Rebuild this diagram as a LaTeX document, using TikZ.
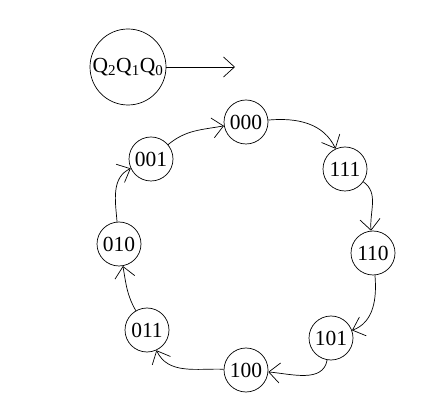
\documentclass[tikz,border=0pt]{standalone}
\usepackage{fontspec}
\setmainfont{Liberation Serif}
\usetikzlibrary{arrows.meta}
\begin{document}
\begin{tikzpicture}[x=1pt,y=-1pt,
  st/.style={circle,draw,line width=0.7pt,minimum size=44pt,inner sep=0pt,font=\fontsize{21.5}{24}\selectfont},
  big/.style={circle,draw,line width=0.7pt,minimum size=76pt,inner sep=0pt,font=\fontsize{21.5}{24}\selectfont},
  edge/.style={line width=0.7pt,-{Straight Barb[length=11pt,width=20pt,line width=0.7pt]}}]
\useasboundingbox (0,0) rectangle (431,411);
\node[big] (q) at (128,67) {Q\textsubscript{2}Q\textsubscript{1}Q\textsubscript{0}};
\coordinate (qe) at (235,67);
\draw[edge] (q) -- (qe);
\node[st] (s000) at (246,122) {000};
\node[st] (s111) at (345,169) {111};
\node[st] (s110) at (373,253) {110};
\node[st] (s101) at (331,338) {101};
\node[st] (s100) at (246,370) {100};
\node[st] (s011) at (147,330) {011};
\node[st] (s010) at (119,244) {010};
\node[st] (s001) at (151,159) {001};
\draw[edge] (s001) to[out=40,in=190] (s000);
\draw[edge] (s000) to[out=5,in=115] (s111);
\draw[edge] (s111) to[out=-35,in=95] (s110);
\draw[edge] (s110) to[out=-85,in=20] (s101);
\draw[edge] (s101) to[out=-100,in=-5] (s100);
\draw[edge] (s100) to[out=178,in=-65] (s011);
\draw[edge] (s011) to[out=120,in=-80] (s010);
\draw[edge] (s010) to[out=95,in=-155] (s001);
\end{tikzpicture}
\end{document}
